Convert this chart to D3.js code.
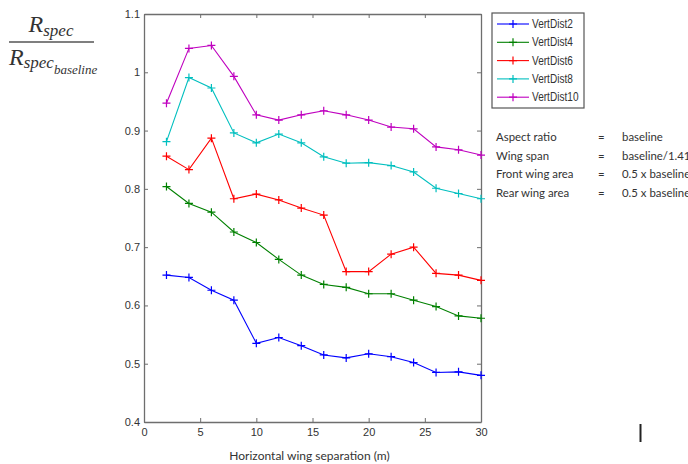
<meta charset="utf-8"/>
<html>
<head>
<script src="https://d3js.org/d3.v7.min.js"></script>
<style>
 * { margin: 0; padding: 0; }
 body { background: #fff; }
 svg text { fill: #333; }
</style>
</head>
<body>
<div id="chart"></div>
<script type="text/javascript">

 // horizontal wing separation (m)
 const separation = [2, 4, 6, 8, 10, 12, 14, 16, 18, 20, 22, 24, 26, 28, 30];

 const vertDist2  = [0.652, 0.648, 0.626, 0.609, 0.535, 0.545, 0.531, 0.515, 0.510, 0.517, 0.512, 0.502, 0.485, 0.486, 0.480];
 const vertDist4  = [0.804, 0.775, 0.760, 0.726, 0.708, 0.679, 0.652, 0.636, 0.631, 0.620, 0.620, 0.609, 0.598, 0.582, 0.578];
 const vertDist6  = [0.856, 0.833, 0.887, 0.783, 0.791, 0.781, 0.767, 0.755, 0.658, 0.658, 0.688, 0.700, 0.655, 0.652, 0.643];
 const vertDist8  = [0.881, 0.991, 0.973, 0.896, 0.879, 0.894, 0.879, 0.855, 0.844, 0.845, 0.840, 0.829, 0.801, 0.792, 0.783];
 const vertDist10 = [0.947, 1.041, 1.046, 0.993, 0.927, 0.918, 0.927, 0.934, 0.927, 0.918, 0.906, 0.903, 0.872, 0.867, 0.858];

 const seriesNames  = ['VertDist2', 'VertDist4', 'VertDist6', 'VertDist8', 'VertDist10'];
 const seriesValues = [vertDist2, vertDist4, vertDist6, vertDist8, vertDist10];
 const seriesColors = ['#0000ff', '#008000', '#ff0000', '#00bfbf', '#bf00bf'];

 const xTicks = [0, 5, 10, 15, 20, 25, 30];
 const yTicks = [0.4, 0.5, 0.6, 0.7, 0.8, 0.9, 1, 1.1];

 const notes = [
     ['Aspect ratio', 'baseline'],
     ['Wing span', 'baseline/1.41'],
     ['Front wing area', '0.5 x baseline'],
     ['Rear wing area', '0.5 x baseline']
 ];

 var width = 688; var height = 464;
 var margin = {left: 144, top: 14, right: 207, bottom: 42};
 var w = width - margin.left - margin.right;
 var h = height - margin.top - margin.bottom;

 var svg = d3.select('#chart').append('svg')
             .attr('width', width)
             .attr('height', height);

 var x = d3.scaleLinear().domain([0, 30]).range([0, w]);
 var y = d3.scaleLinear().domain([0.4, 1.1]).range([h, 0]);

 var g = svg.append('g')
            .attr('transform', 'translate(' + margin.left + ',' + margin.top + ')');

 const axisColor = '#6e6e6e';
 const tickFont = '"Liberation Sans", Arial, sans-serif';
 const textFont = 'Lato, "Open Sans", sans-serif';

 // MATLAB style box with inward ticks on all four sides
 function styleAxis(sel, showLabels) {
     sel.select('.domain').attr('stroke', axisColor).attr('stroke-width', 1.3);
     sel.selectAll('.tick line').attr('stroke', axisColor);
     sel.selectAll('.tick text')
        .style('font-family', tickFont)
        .style('font-size', '11px')
        .attr('fill', '#444')
        .style('display', showLabels ? null : 'none');
 }

 g.append('g').attr('transform', 'translate(0,' + h + ')')
  .call(d3.axisBottom(x).tickValues(xTicks).tickSize(-4).tickPadding(6).tickSizeOuter(0))
  .call(sel => styleAxis(sel, true));
 g.append('g')
  .call(d3.axisTop(x).tickValues(xTicks).tickSize(-4).tickSizeOuter(0))
  .call(sel => styleAxis(sel, false));
 g.append('g')
  .call(d3.axisLeft(y).tickValues(yTicks).tickFormat(d3.format('~g')).tickSize(-4).tickPadding(4).tickSizeOuter(0))
  .call(sel => styleAxis(sel, true));
 g.append('g').attr('transform', 'translate(' + w + ',0)')
  .call(d3.axisRight(y).tickValues(yTicks).tickSize(-4).tickSizeOuter(0))
  .call(sel => styleAxis(sel, false));

 // series
 var line = d3.line().x((d, i) => x(separation[i])).y(d => y(d));
 const mk = 4;

 seriesValues.forEach(function(vals, k) {
     var s = g.append('g');
     s.append('path')
      .datum(vals)
      .attr('d', line)
      .attr('fill', 'none')
      .attr('stroke', seriesColors[k])
      .attr('stroke-width', 1.1);
     s.selectAll('path.mark')
      .data(vals)
      .join('path')
      .attr('class', 'mark')
      .attr('d', (d, i) => {
          var px = x(separation[i]), py = y(d);
          return 'M' + (px - mk) + ',' + py + 'H' + (px + mk) + 'M' + px + ',' + (py - mk) + 'V' + (py + mk);
      })
      .attr('stroke', seriesColors[k])
      .attr('stroke-width', 1.2);
 });

 // x axis title
 svg.append('text')
    .attr('x', margin.left + w / 2 - 3)
    .attr('y', 460)
    .attr('text-anchor', 'middle')
    .style('font-family', textFont)
    .style('font-size', '12px')
    .text('Horizontal wing separation (m)');

 // y axis label: R_spec / R_spec_baseline
 var yl = svg.append('g')
             .style('font-family', '"Liberation Serif", "DejaVu Serif", serif')
             .style('font-style', 'italic');
 var num = yl.append('text').attr('x', 51).attr('y', 32).attr('text-anchor', 'middle');
 num.append('tspan').style('font-size', '24px').text('R');
 num.append('tspan').style('font-size', '17px').attr('dy', 4).text('spec');
 yl.append('line')
   .attr('x1', 9).attr('x2', 94).attr('y1', 42).attr('y2', 42)
   .attr('stroke', '#555').attr('stroke-width', 1.5);
 var den = yl.append('text').attr('x', 9).attr('y', 65);
 den.append('tspan').style('font-size', '24px').text('R');
 den.append('tspan').style('font-size', '17px').attr('dy', 3).text('spec');
 den.append('tspan').style('font-size', '13px').attr('dy', 6).text('baseline');

 // legend
 var lg = svg.append('g').attr('transform', 'translate(492,13)');
 lg.append('rect')
   .attr('width', 92).attr('height', 95)
   .attr('fill', '#fff').attr('stroke', '#555').attr('stroke-width', 1.2);
 seriesNames.forEach(function(name, k) {
     var ly = 11 + k * 18.3;
     lg.append('line').attr('x1', 5).attr('x2', 37).attr('y1', ly).attr('y2', ly)
       .attr('stroke', seriesColors[k]).attr('stroke-width', 1.1);
     lg.append('path')
       .attr('d', 'M' + (21 - mk) + ',' + ly + 'H' + (21 + mk) + 'M21,' + (ly - mk) + 'V' + (ly + mk))
       .attr('stroke', seriesColors[k]).attr('stroke-width', 1.2);
     lg.append('text')
       .attr('transform', 'translate(40,' + (ly + 4) + ') scale(0.84,1)')
       .style('font-family', tickFont)
       .style('font-size', '12px')
       .text(name);
 });

 // parameter notes
 var nt = svg.append('g')
             .style('font-family', textFont)
             .style('font-size', '11.4px');
 notes.forEach(function(row, k) {
     var ny = 141 + k * 18.7;
     nt.append('text').attr('x', 496).attr('y', ny).text(row[0]);
     nt.append('text').attr('x', 598).attr('y', ny).text('=');
     nt.append('text').attr('x', 622).attr('y', ny).text(row[1]);
 });

 // stray vertical bar at bottom right
 svg.append('line')
    .attr('x1', 640.5).attr('x2', 640.5).attr('y1', 424).attr('y2', 442)
    .attr('stroke', '#222').attr('stroke-width', 2);

</script>
</body>
</html>
